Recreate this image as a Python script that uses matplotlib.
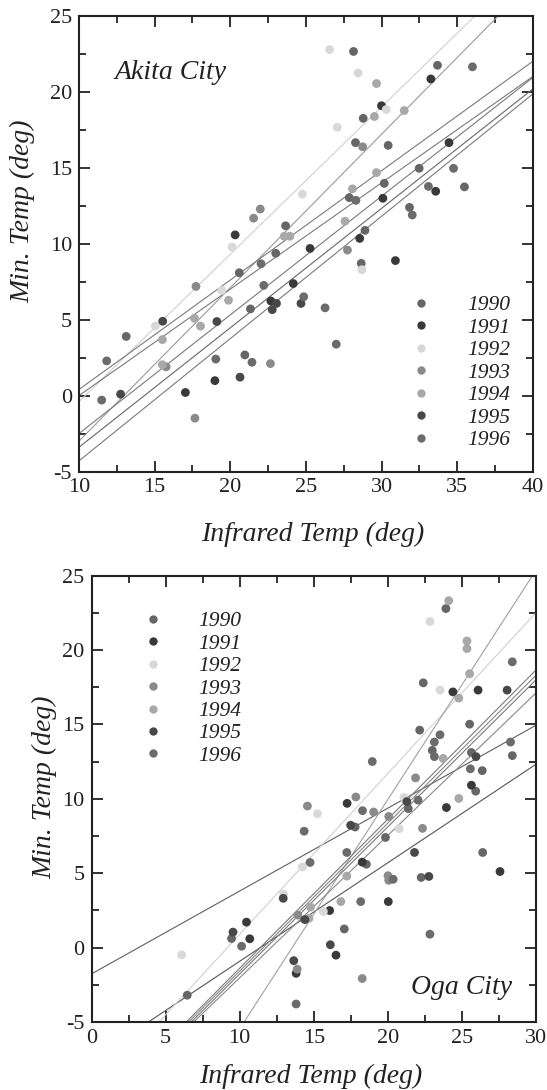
import numpy as np
import matplotlib
matplotlib.use("Agg")
import matplotlib.pyplot as plt
from matplotlib.lines import Line2D

plt.rcParams['font.family'] = ['Liberation Serif', 'DejaVu Serif']
plt.rcParams['axes.unicode_minus'] = False

years = ["1990", "1991", "1992", "1993", "1994", "1995", "1996"]

# Akita City: infrared temp vs min. temp, grouped by year
akita_ir = {
    "1990": [28.14, 33.69, 28.78, 28.27, 30.43, 32.48, 30.17, 35.47, 27.86, 31.84, 23.65, 28.9, 28.65, 23.0, 20.59, 21.33, 13.12, 20.96],
    "1991": [33.25, 29.99, 34.45, 33.57, 30.08, 20.32, 25.27, 30.91, 28.55, 24.16, 22.68, 18.98, 17.03],
    "1992": [26.56, 28.44, 30.3, 27.07, 24.76, 20.11, 28.69, 19.44, 15.04],
    "1993": [28.74, 21.98, 21.54, 27.74, 17.73, 15.76, 22.65, 17.66],
    "1994": [29.66, 31.49, 29.52, 29.66, 28.07, 27.58, 23.56, 23.93, 19.88, 17.63, 18.03, 15.51, 15.51],
    "1995": [23.05, 22.77, 24.67, 19.11, 15.53, 20.64, 12.75],
    "1996": [36.0, 34.75, 33.09, 28.3, 32.02, 22.03, 22.21, 24.85, 26.26, 11.83, 19.04, 21.43, 27.0, 11.5],
}
akita_min = {
    "1990": [22.64, 21.73, 18.24, 16.64, 16.46, 14.95, 13.96, 13.73, 13.02, 12.38, 11.17, 10.87, 8.70, 9.36, 8.08, 5.70, 3.89, 2.67],
    "1991": [20.83, 19.07, 16.64, 13.44, 12.98, 10.57, 9.68, 8.88, 10.34, 7.37, 6.22, 0.98, 0.20],
    "1992": [22.76, 21.22, 18.82, 17.65, 13.25, 9.77, 8.28, 6.91, 4.57],
    "1993": [16.37, 12.27, 11.67, 9.57, 7.18, 1.89, 2.10, -1.49],
    "1994": [20.53, 18.75, 18.36, 14.67, 13.60, 11.47, 10.48, 10.48, 6.27, 5.08, 4.57, 3.68, 2.03],
    "1995": [6.06, 5.65, 6.06, 4.87, 4.89, 1.21, 0.09],
    "1996": [21.63, 14.95, 13.76, 12.84, 11.88, 8.67, 7.25, 6.50, 5.77, 2.28, 2.40, 2.19, 3.38, -0.30],
}
# regression lines (slope, intercept) for Akita
akita_slope = [0.97, 1.01, 0.72, 0.70, 0.781, 0.786, 0.805]
akita_icpt = [-10.1, -13.1, -6.8, -7.0, -10.31, -11.26, -12.35]

# Oga City
oga_ir = {
    "1990": [23.92, 22.39, 22.15, 25.52, 23.0, 25.64, 28.40, 26.37, 25.93, 21.38, 17.79, 19.84, 26.40, 18.55, 22.25, 9.45, 17.06, 6.46],
    "1991": [24.39, 26.09, 25.64, 23.95, 17.25, 18.27, 27.57, 20.03, 16.07, 10.46, 10.68, 16.50, 13.81],
    "1992": [22.84, 23.52, 21.09, 15.25, 20.76, 14.23, 12.96, 15.65, 6.08],
    "1993": [21.87, 17.84, 19.04, 14.57, 20.06, 22.34, 20.01, 20.06, 13.93, 13.88, 18.27],
    "1994": [24.11, 25.34, 25.34, 25.52, 24.79, 23.73, 24.79, 17.23, 16.83, 14.78, 14.68],
    "1995": [28.05, 25.95, 21.28, 17.49, 21.80, 22.77, 12.94, 14.40, 9.55, 16.12, 13.65],
    "1996": [28.40, 23.52, 23.14, 23.14, 28.28, 25.57, 18.95, 22.04, 18.29, 14.35, 17.23, 14.75, 20.36, 18.17, 10.13, 22.84, 13.81],
}
oga_min = {
    "1990": [22.78, 17.79, 14.61, 15.01, 13.25, 13.11, 12.90, 11.89, 10.51, 9.34, 8.10, 7.40, 6.39, 5.60, 4.71, 0.61, 1.25, -3.2],
    "1991": [17.18, 17.30, 10.91, 9.41, 9.69, 5.74, 5.11, 3.09, 2.49, 1.71, 0.59, -0.51, -1.73],
    "1992": [21.91, 17.30, 10.09, 8.99, 7.99, 5.41, 3.59, 2.42, -0.49],
    "1993": [11.40, 10.12, 9.11, 9.51, 8.81, 8.01, 4.83, 4.52, 2.18, -1.45, -2.08],
    "1994": [23.31, 20.60, 20.09, 18.40, 16.76, 12.71, 10.02, 4.80, 3.09, 2.72, 1.97],
    "1995": [17.30, 12.83, 9.81, 8.22, 6.39, 4.78, 3.31, 1.88, 1.04, 0.19, -0.88],
    "1996": [19.20, 14.30, 13.81, 12.83, 13.81, 12.01, 12.50, 9.91, 9.20, 7.82, 6.39, 5.72, 4.59, 3.09, 0.09, 0.90, -3.79],
}
oga_slope = [0.557, 0.662, 1.081, 1.541, 1.002, 0.994, 0.988, 0.957]
oga_icpt = [-1.77, -7.54, -9.92, -20.87, -11.41, -11.52, -11.65, -11.6]

year_colors = {"1990": "#666666", "1991": "#393939", "1992": "#d8d8d8", "1993": "#8a8a8a",
               "1994": "#a8a8a8", "1995": "#484848", "1996": "#6b6b6b"}
akita_line_colors = ["#d0d0d0", "#9a9a9a", "#7a7a7a", "#7a7a7a", "#7a7a7a", "#666666", "#7a7a7a"]
oga_line_colors = ["#606060", "#555555", "#d0d0d0", "#a0a0a0", "#7a7a7a", "#888888", "#7a7a7a", "#888888"]

fig = plt.figure(figsize=(5.47, 10.9), dpi=100)
ax1 = fig.add_axes([0.1444, 0.5674, 0.830, 0.4183])
ax2 = fig.add_axes([0.1673, 0.0624, 0.8126, 0.4096])


def draw_panel(ax, ir, mn, slopes, icpts, lcolors, xlim, name, name_pos, name_ha,
               leg_loc, leg_anchor, xlab_pos, ylab_pos):
    ax.set_xlim(*xlim)
    ax.set_ylim(-5, 25)
    xs = np.array(xlim, dtype=float)
    for b, a, c in zip(slopes, icpts, lcolors):
        ax.plot(xs, a + b * xs, color=c, lw=0.8, zorder=2)
    for yr in years:
        ax.scatter(ir[yr], mn[yr], s=40, color=year_colors[yr], edgecolors='none', zorder=3)

    ax.xaxis.set_major_locator(plt.MultipleLocator(5))
    ax.xaxis.set_minor_locator(plt.MultipleLocator(2.5))
    ax.yaxis.set_major_locator(plt.MultipleLocator(5))
    ax.yaxis.set_minor_locator(plt.MultipleLocator(2.5))
    ax.tick_params(which='both', direction='in', top=True, right=True, width=1.3,
                   labelsize=16, color='#222222', labelcolor='#222222')
    ax.tick_params(which='major', length=8, pad=5)
    ax.tick_params(which='minor', length=5)
    for sp in ax.spines.values():
        sp.set_linewidth(1.5)
        sp.set_color('#222222')

    ax.set_xlabel("Infrared Temp (deg)", fontsize=20, style='italic', va='center', color='#222222')
    ax.set_ylabel("Min. Temp (deg)", fontsize=20, style='italic', va='center', color='#222222')
    ax.xaxis.set_label_coords(*xlab_pos)
    ax.yaxis.set_label_coords(*ylab_pos)

    ax.text(name_pos[0], name_pos[1], name, transform=ax.transAxes, fontsize=20,
            style='italic', ha=name_ha, va='baseline', color='#222222')

    handles = [Line2D([], [], ls='none', marker='o', ms=6, mfc=year_colors[y], mec='none')
               for y in years]
    leg = ax.legend(handles, years, loc=leg_loc, bbox_to_anchor=leg_anchor, frameon=False,
                    handlelength=1.0, handletextpad=1.63, labelspacing=0.11,
                    borderpad=0, borderaxespad=0, prop={'style': 'italic', 'size': 15.5})
    for t in leg.get_texts():
        t.set_color('#222222')


draw_panel(ax1, akita_ir, akita_min, akita_slope, akita_icpt, akita_line_colors,
           (10, 40), "Akita City", (0.079, 0.86), 'left',
           'lower right', (0.949, 0.047), (0.515, -0.139), (-0.124, 0.571))
draw_panel(ax2, oga_ir, oga_min, oga_slope, oga_icpt, oga_line_colors,
           (0, 30), "Oga City", (0.947, 0.062), 'right',
           'upper left', (0.1136, 0.920), (0.494, -0.123), (-0.106, 0.525))

fig.savefig("out.png", dpi=100)
